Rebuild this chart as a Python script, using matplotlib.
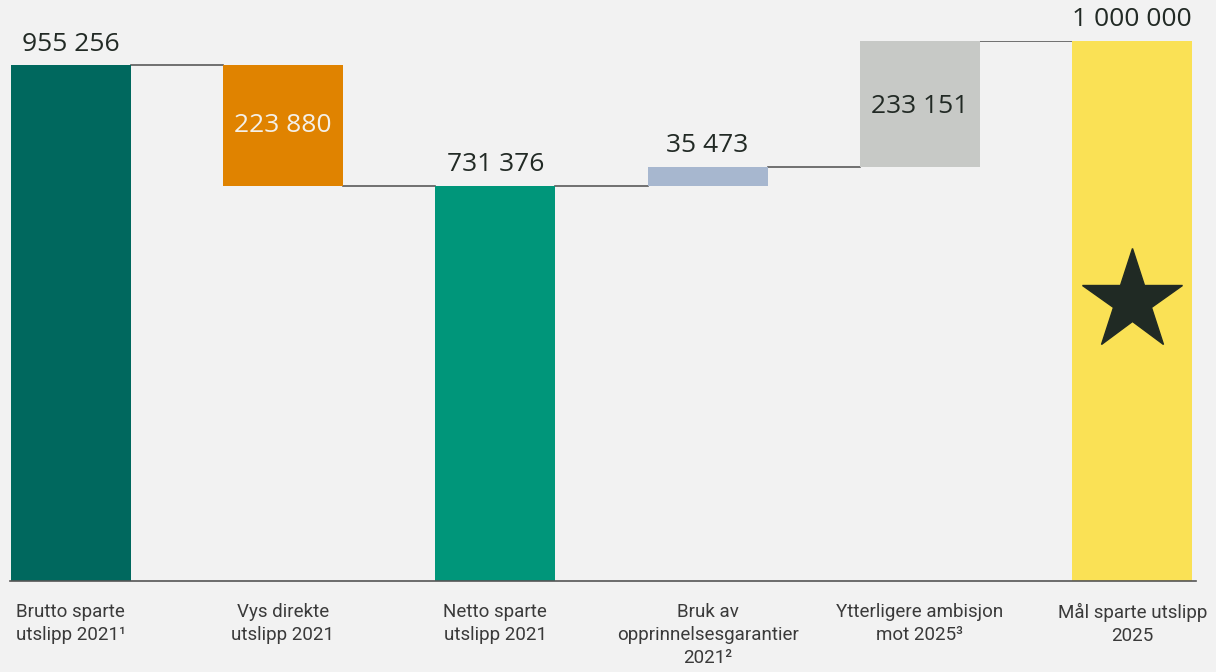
import matplotlib.pyplot as plt

# Data
categories = ["Brutto sparte\nutslipp 2021¹", "Vys direkte\nutslipp 2021", "Netto sparte\nutslipp 2021",
              "Bruk av\nopprinnelsesgarantier\n2021²", "Ytterligere ambisjon\nmot 2025³", "Mål sparte utslipp\n2025"]
bottoms = [0, 731376, 0, 731376, 766849, 0]
heights = [955256, 223880, 731376, 35473, 233151, 1000000]
labels = ["955 256", "223 880", "731 376", "35 473", "233 151", "1 000 000"]
colors = ["#00685e", "#e08300", "#00967a", "#a7b7cf", "#c7c9c6", "#fae155"]

bg = "#f2f2f2"
txt = "#222a25"
width = 0.565

fig = plt.figure(figsize=(12.16, 6.72), dpi=100, facecolor=bg)
ax = fig.add_axes([10 / 1216, 91 / 672, 1186 / 1216, 540 / 672], facecolor=bg)

x = list(range(len(categories)))
ax.bar(x, heights, bottom=bottoms, width=width, color=colors, zorder=2)

# connectors
levels = [955256, 731376, 731376, 766849, 1000000]
for i, lv in enumerate(levels):
    ax.plot([i + width / 2, i + 1 - width / 2], [lv, lv], color="#5a5a5a", lw=1.2, zorder=1)

# value labels
vfont = dict(family=["Open Sans", "DejaVu Sans"], fontsize=19)
off = 16000
ax.text(0, 955256 + off, labels[0], ha="center", va="bottom", color=txt, **vfont)
ax.text(1, 731376 + 223880 / 2, labels[1], ha="center", va="center", color="#f4f0e8", **vfont)
ax.text(2, 731376 + off, labels[2], ha="center", va="bottom", color=txt, **vfont)
ax.text(3, 766849 + off, labels[3], ha="center", va="bottom", color=txt, **vfont)
ax.text(4, 766849 + 233151 / 2 - 5000, labels[4], ha="center", va="center", color=txt, **vfont)
ax.text(5, 1000000 + off, labels[5], ha="center", va="bottom", color=txt, clip_on=False, **vfont)

# star
ax.plot([5], [518500], marker="*", markersize=76, color="#202a24", zorder=3)

ax.set_xlim(-0.285, 5.30)
ax.set_ylim(0, 1000000)
ax.set_xticks(x)
ax.set_xticklabels(categories, family=["Roboto", "DejaVu Sans"],
                   fontsize=13.5, color="#3a3a3a", linespacing=1.35, va="top")
ax.tick_params(axis="x", length=0, pad=16)
ax.set_yticks([])
for s in ["top", "right", "left"]:
    ax.spines[s].set_visible(False)
ax.spines["bottom"].set_color("#555555")
ax.spines["bottom"].set_linewidth(1.2)

plt.savefig("out.png", dpi=100, facecolor=bg)
